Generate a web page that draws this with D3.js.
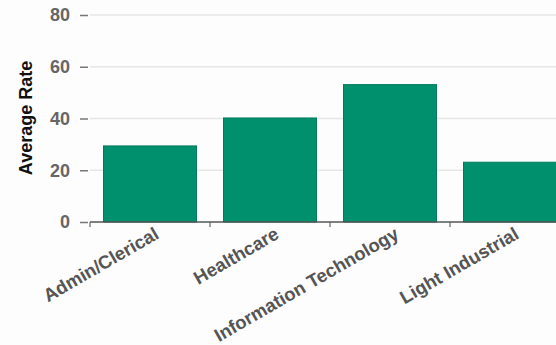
<!DOCTYPE html>
<html>
<head>
<meta charset="utf-8">
<script src="https://cdn.jsdelivr.net/npm/d3@7"></script>
<style>
  html, body { margin: 0; padding: 0; background: #fdfdfd; }
  svg { display: block; }
</style>
</head>
<body>
<div id="chart"></div>
<script>
// Average rate by job category
const categories = ["Admin/Clerical", "Healthcare", "Information Technology", "Light Industrial"];
const averageRates = [29.4, 40.2, 53.1, 23.1];
const yTicks = [0, 20, 40, 60, 80];
const yTitle = "Average Rate";

const width = 556, height = 345;
const plotLeft = 90, plotTop = 15, plotBottom = 222;
const font = "'Liberation Sans', Arial, sans-serif";

const svg = d3.select("#chart").append("svg")
  .attr("width", width).attr("height", height);

const x = d3.scaleBand()
  .domain(categories)
  .range([plotLeft, plotLeft + 120 * categories.length])
  .paddingInner(0.225)
  .paddingOuter(0.1125);

const y = d3.scaleLinear()
  .domain([0, 80])
  .range([plotBottom, plotTop]);

// horizontal gridlines
svg.append("g")
  .selectAll("line")
  .data(yTicks.filter(t => t > 0))
  .join("line")
  .attr("x1", plotLeft).attr("x2", width)
  .attr("y1", d => y(d)).attr("y2", d => y(d))
  .attr("stroke", "#e6e6e6").attr("stroke-width", 1.5);

// y axis: ticks and labels, no domain line
const yAxis = svg.append("g")
  .attr("transform", `translate(${plotLeft - 2},0)`)
  .call(d3.axisLeft(y).tickValues(yTicks).tickSize(8).tickPadding(10).tickSizeOuter(0));
yAxis.select(".domain").remove();
yAxis.selectAll(".tick line").attr("stroke", "#777").attr("stroke-width", 1.5);
yAxis.selectAll(".tick text")
  .attr("fill", "#666")
  .style("font-family", font)
  .style("font-weight", "bold")
  .style("font-size", "18px");

// y title
svg.append("text")
  .attr("transform", `translate(32,118) rotate(-90)`)
  .attr("text-anchor", "middle")
  .style("font-family", font)
  .style("font-weight", "bold")
  .style("font-size", "18px")
  .attr("fill", "#111")
  .text(yTitle);

// bars
svg.append("g")
  .selectAll("rect")
  .data(categories.map((c, i) => ({ c, v: averageRates[i] })))
  .join("rect")
  .attr("x", d => x(d.c))
  .attr("y", d => y(d.v))
  .attr("width", x.bandwidth())
  .attr("height", d => y(0) - y(d.v))
  .attr("fill", "#00906d")
  .attr("stroke", "#007a5c")
  .attr("stroke-width", 1);

// x axis baseline with ticks at band boundaries
const xAxis = svg.append("g").attr("transform", `translate(0,${plotBottom})`);
xAxis.append("line")
  .attr("x1", plotLeft).attr("x2", width)
  .attr("stroke", "#555").attr("stroke-width", 1.5);
xAxis.selectAll(".bound")
  .data(categories)
  .join("line")
  .attr("class", "bound")
  .attr("x1", d => x(d) - x.step() * x.paddingInner() / 2)
  .attr("x2", d => x(d) - x.step() * x.paddingInner() / 2)
  .attr("y1", 0).attr("y2", 5)
  .attr("stroke", "#666").attr("stroke-width", 1.2);

// rotated category labels ending near band centers
xAxis.selectAll(".lbl")
  .data(categories)
  .join("text")
  .attr("class", "lbl")
  .attr("transform", d => `translate(${x(d) + x.bandwidth() / 2 + 7},${10}) rotate(-30)`)
  .attr("text-anchor", "end")
  .attr("dy", "0.35em")
  .style("font-family", font)
  .style("font-weight", "bold")
  .style("font-size", "18.5px")
  .attr("fill", "#555")
  .text(d => d);
</script>
</body>
</html>
